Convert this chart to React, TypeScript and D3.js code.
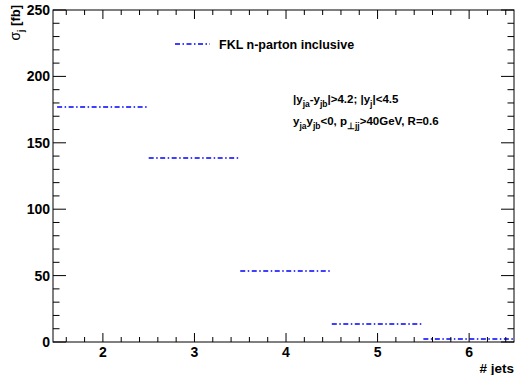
import React from "react";
import * as d3 from "d3";

const categories = [2, 3, 4, 5, 6];
const values = [177, 138.5, 53.5, 13.5, 2.3];
const xTickLabels = [2, 3, 4, 5, 6];
const yTickLabels = [0, 50, 100, 150, 200, 250];
const legendLabel = "FKL n-parton inclusive";

const W = 517;
const H = 375;
const L = 53, R = 514, T = 10, B = 342;
const FONT = "'Liberation Sans', Arial, Helvetica, sans-serif";
const BLUE = "#0000ff";
const DASH = "5,2.5,1.5,2.5";

export default function App() {
  const x = d3.scaleLinear().domain([1.455, 6.49]).range([L, R]);
  const y = d3.scaleLinear().domain([0, 250]).range([B, T]);

  const xMinor = d3.range(1.6, 6.5, 0.2).filter((v) => Math.abs(v - Math.round(v)) > 0.01);
  const yMinor = d3.range(0, 251, 10).filter((v) => v % 50 !== 0);

  return (
    <svg
      width={W}
      height={H}
      style={{ position: "absolute", left: 0, top: 0, background: "#fff" }}
      fontFamily={FONT}
    >
      <defs>
        <clipPath id="plotclip">
          <rect x={L} y={T} width={R - L} height={B - T} />
        </clipPath>
      </defs>
      <rect x={0} y={0} width={W} height={H} fill="#fff" />

      {/* bins */}
      <g clipPath="url(#plotclip)">
        {categories.map((c, i) => (
          <line
            key={c}
            x1={x(c - 0.5)}
            x2={x(c + 0.5)}
            y1={y(values[i])}
            y2={y(values[i])}
            stroke={BLUE}
            strokeWidth={1.5}
            strokeDasharray={DASH}
          />
        ))}
      </g>

      {/* frame */}
      <rect x={L} y={T} width={R - L} height={B - T} fill="none" stroke="#000" strokeWidth={1} />

      {/* x ticks */}
      {xTickLabels.map((v) => (
        <g key={"xm" + v}>
          <line x1={x(v)} x2={x(v)} y1={B} y2={B - 9} stroke="#000" />
          <line x1={x(v)} x2={x(v)} y1={T} y2={T + 9} stroke="#000" />
          <text x={x(v)} y={357} textAnchor="middle" fontSize={14} fontWeight="bold">
            {v}
          </text>
        </g>
      ))}
      {xMinor.map((v, i) => (
        <g key={"xn" + i}>
          <line x1={x(v)} x2={x(v)} y1={B} y2={B - 5} stroke="#000" />
          <line x1={x(v)} x2={x(v)} y1={T} y2={T + 5} stroke="#000" />
        </g>
      ))}

      {/* y ticks */}
      {yTickLabels.map((v) => (
        <g key={"ym" + v}>
          <line x1={L} x2={L + 13} y1={y(v)} y2={y(v)} stroke="#000" />
          <line x1={R} x2={R - 13} y1={y(v)} y2={y(v)} stroke="#000" />
          <text x={50} y={y(v) + 5} textAnchor="end" fontSize={14} fontWeight="bold">
            {v}
          </text>
        </g>
      ))}
      {yMinor.map((v) => (
        <g key={"yn" + v}>
          <line x1={L} x2={L + 6.5} y1={y(v)} y2={y(v)} stroke="#000" />
          <line x1={R} x2={R - 6.5} y1={y(v)} y2={y(v)} stroke="#000" />
        </g>
      ))}

      {/* axis titles */}
      <text x={514} y={372.5} textAnchor="end" fontSize={13.5} fontWeight="bold">
        # jets
      </text>
      <text
        transform="translate(20,5) rotate(-90)"
        textAnchor="end"
        fontSize={13}
        fontWeight="bold"
      >
        <tspan fontWeight="normal" fontSize={14}>σ</tspan>
        <tspan dy={4} fontSize={8.5}>j</tspan>
        <tspan dy={-4}> [fb]</tspan>
      </text>

      {/* legend */}
      <line x1={175} x2={210} y1={44} y2={44} stroke={BLUE} strokeWidth={1.5} strokeDasharray={DASH} />
      <text x={219} y={48.5} fontSize={12.5} fontWeight="bold">
        {legendLabel}
      </text>

      {/* annotations */}
      <text x={293} y={102.7} fontSize={11.5} fontWeight="bold">
        <tspan>|y</tspan>
        <tspan dy={4} fontSize={8.5}>ja</tspan>
        <tspan dy={-4}>-y</tspan>
        <tspan dy={4} fontSize={8.5}>jb</tspan>
        <tspan dy={-4}>|&gt;4.2; |y</tspan>
        <tspan dy={4} fontSize={8.5}>j</tspan>
        <tspan dy={-4}>|&lt;4.5</tspan>
      </text>
      <text x={293} y={125} fontSize={11.5} fontWeight="bold">
        <tspan>y</tspan>
        <tspan dy={4} fontSize={8.5}>ja</tspan>
        <tspan dy={-4}>y</tspan>
        <tspan dy={4} fontSize={8.5}>jb</tspan>
        <tspan dy={-4}>&lt;0, p</tspan>
        <tspan dy={4} fontSize={8.5}>⊥jj</tspan>
        <tspan dy={-4}>&gt;40GeV, R=0.6</tspan>
      </text>
    </svg>
  );
}
